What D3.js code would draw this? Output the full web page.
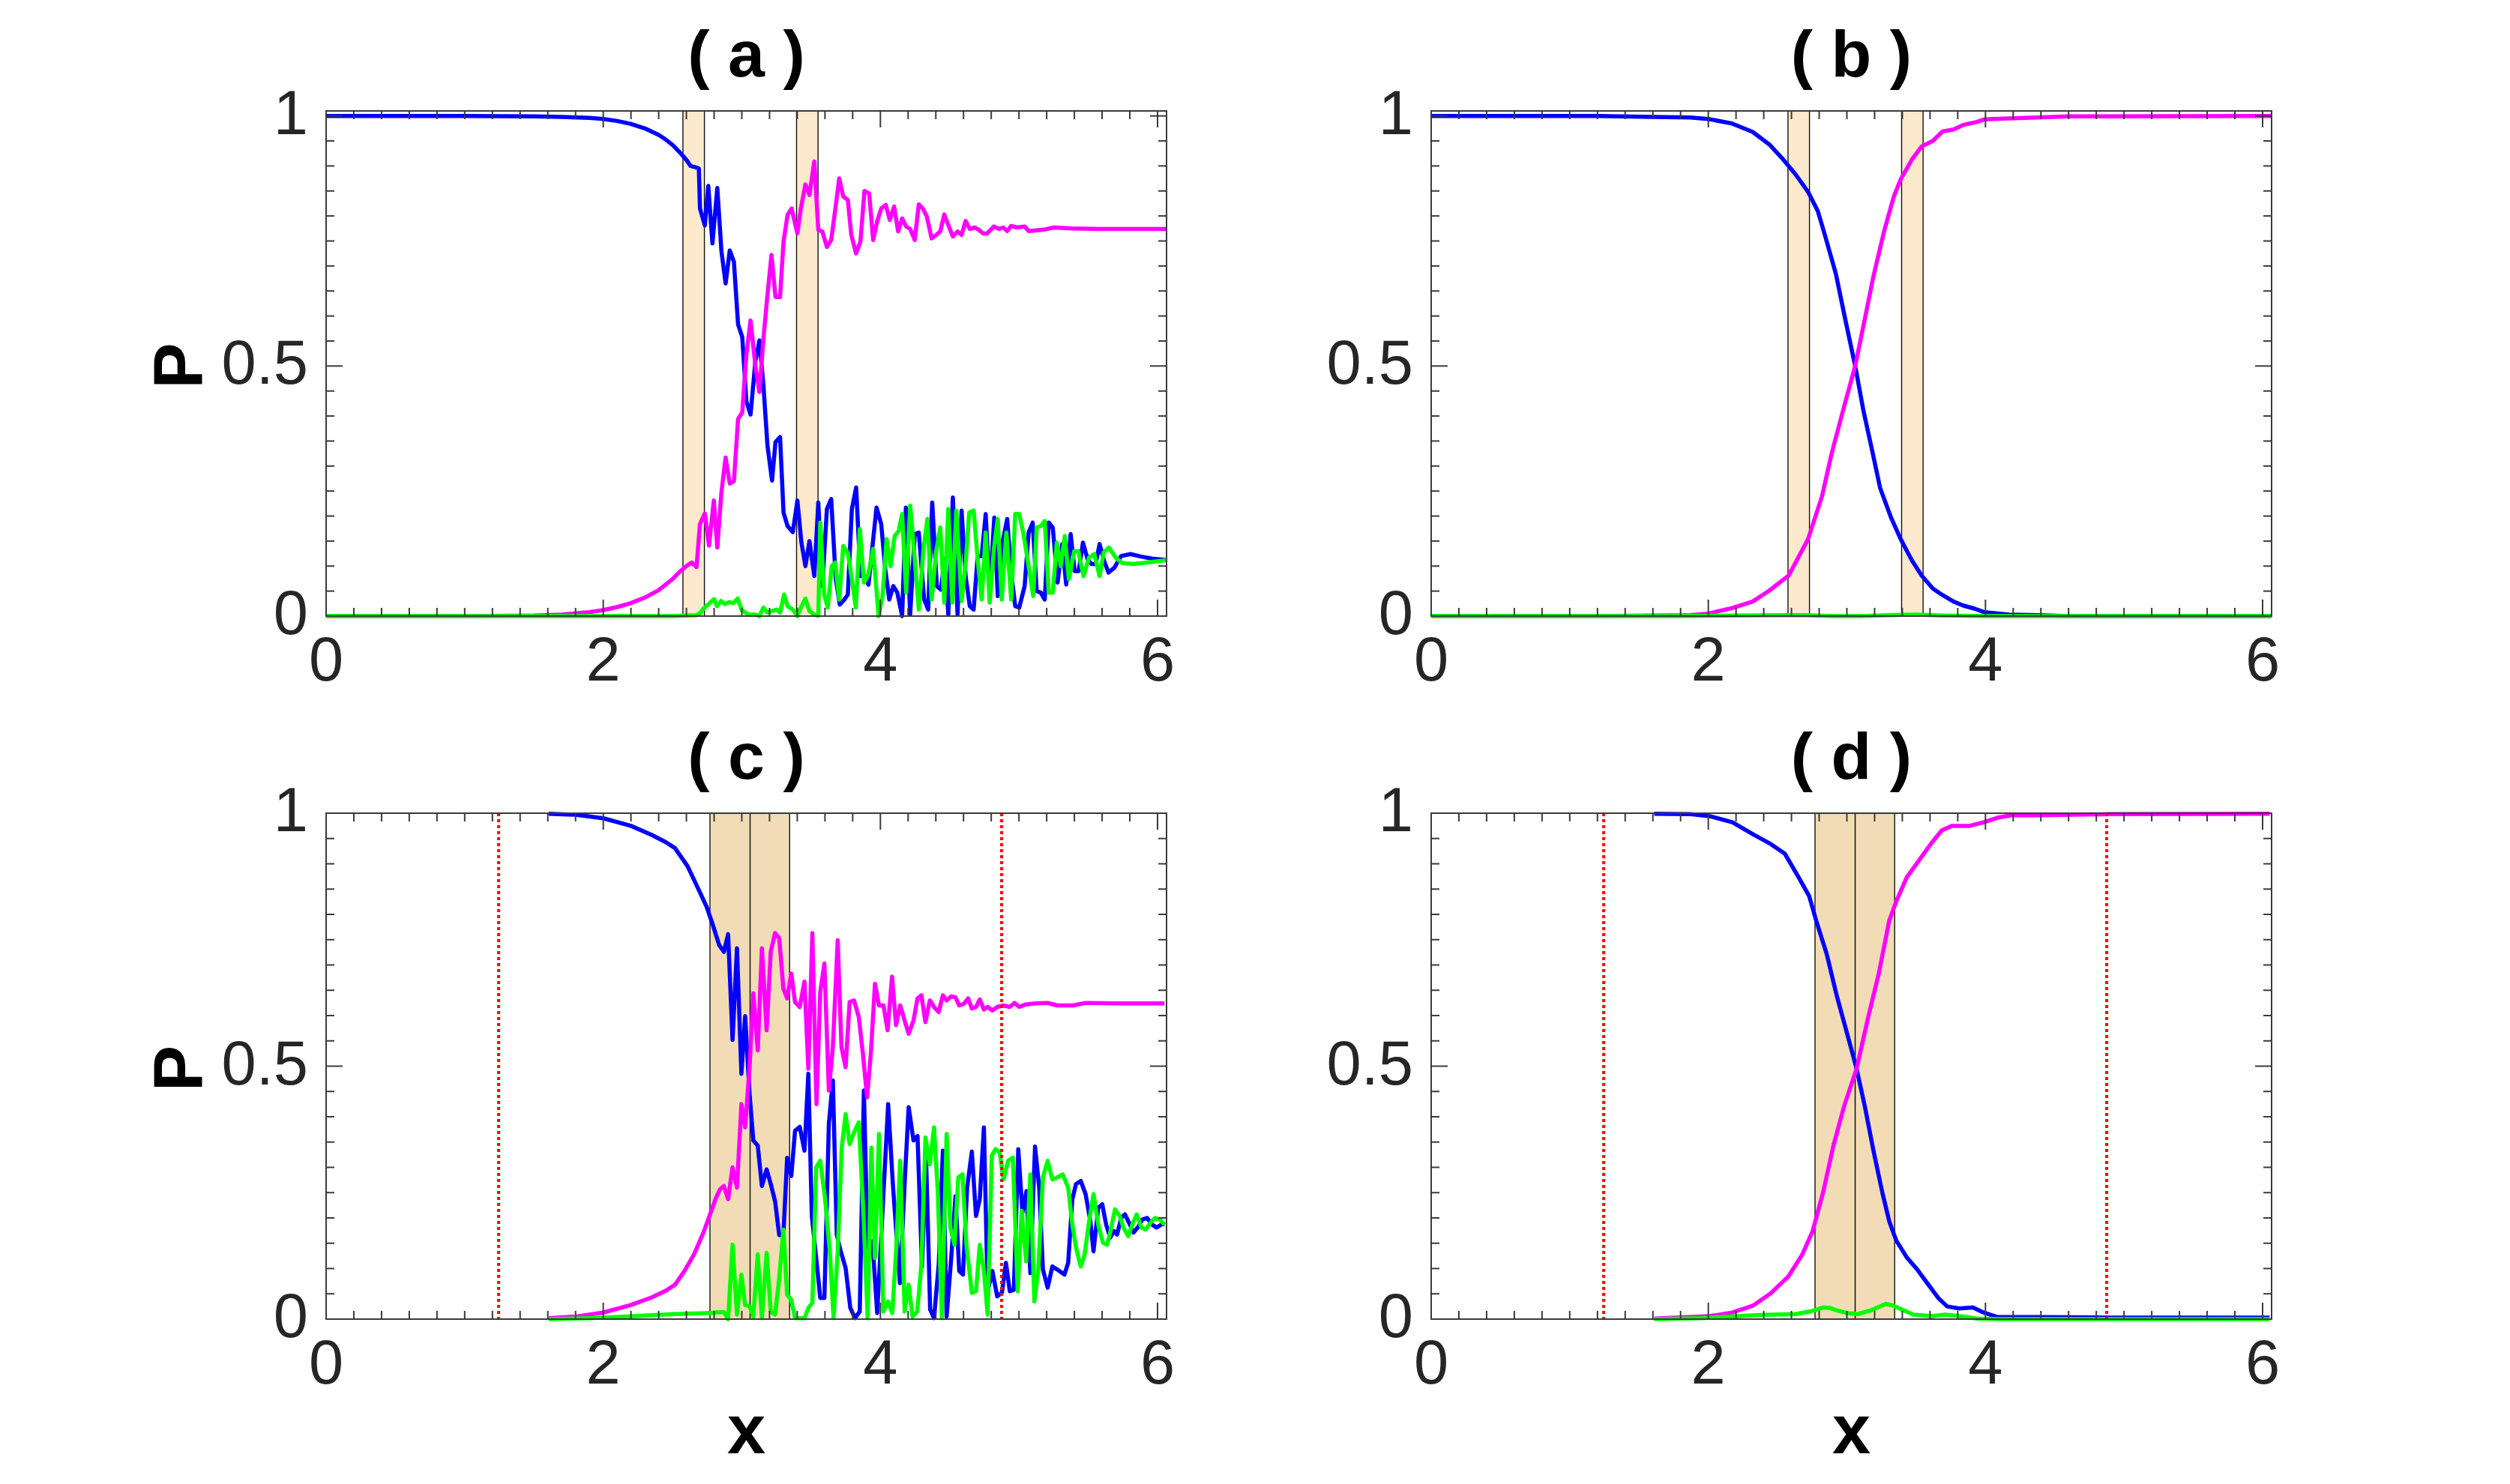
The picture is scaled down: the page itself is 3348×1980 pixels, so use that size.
<!DOCTYPE html>
<html>
<head>
<meta charset="utf-8">
<script src="https://d3js.org/d3.v7.min.js"></script>
<style>
  body { margin: 0; background: #fff; }
  text { font-family: "Liberation Sans", Arial, Helvetica, sans-serif; }
</style>
</head>
<body>
<script>
// ---- data: [x, P] pairs ----
const aBlue = [[0,1.0],[1.0,1.0],[1.5,0.999],[1.7,0.998],[1.9,0.996],[2.0,0.994],[2.1,0.99],[2.2,0.984],[2.3,0.975],[2.4,0.962],[2.45,0.953],[2.5,0.942],[2.55,0.928],[2.6,0.912],[2.63,0.9],[2.67,0.897],[2.69,0.895],[2.698,0.815],[2.733,0.781],[2.758,0.86],[2.788,0.745],[2.823,0.856],[2.853,0.729],[2.883,0.665],[2.913,0.731],[2.943,0.708],[2.973,0.583],[3.003,0.558],[3.033,0.429],[3.063,0.403],[3.098,0.51],[3.127,0.551],[3.156,0.461],[3.185,0.341],[3.218,0.271],[3.243,0.348],[3.276,0.358],[3.301,0.207],[3.33,0.18],[3.368,0.168],[3.401,0.231],[3.43,0.147],[3.459,0.1],[3.488,0.15],[3.523,0.08],[3.552,0.227],[3.581,0.06],[3.614,0.214],[3.645,0.234],[3.678,0.074],[3.707,0.023],[3.74,0.033],[3.765,0.043],[3.794,0.214],[3.825,0.257],[3.856,0.08],[3.885,0.08],[3.914,0.063],[3.972,0.217],[4.006,0.184],[4.035,0.094],[4.064,0.033],[4.093,0.06],[4.122,0.047],[4.157,0.0],[4.184,0.217],[4.215,0.003],[4.248,0.164],[4.277,0.167],[4.316,0.033],[4.345,0.013],[4.374,0.227],[4.407,0.06],[4.436,0.053],[4.465,0.114],[4.49,0.003],[4.523,0.237],[4.557,0.003],[4.586,0.211],[4.615,0.08],[4.645,0.02],[4.673,0.013],[4.702,0.12],[4.731,0.12],[4.76,0.204],[4.789,0.047],[4.822,0.197],[4.847,0.04],[4.876,0.14],[4.915,0.194],[4.944,0.087],[4.973,0.02],[5.002,0.017],[5.041,0.06],[5.07,0.167],[5.099,0.187],[5.128,0.05],[5.157,0.047],[5.186,0.033],[5.215,0.187],[5.244,0.177],[5.279,0.067],[5.312,0.144],[5.341,0.063],[5.373,0.164],[5.402,0.09],[5.431,0.09],[5.462,0.147],[5.495,0.114],[5.524,0.104],[5.553,0.104],[5.582,0.144],[5.615,0.11],[5.646,0.087],[5.689,0.097],[5.737,0.12],[5.805,0.124],[5.882,0.119],[5.959,0.115],[6.065,0.112]];
const aMagenta = [[0,0],[1.0,0],[1.5,0.001],[1.7,0.003],[1.9,0.008],[2.0,0.012],[2.1,0.018],[2.2,0.026],[2.3,0.037],[2.4,0.052],[2.5,0.074],[2.55,0.088],[2.6,0.1],[2.638,0.107],[2.673,0.098],[2.698,0.184],[2.733,0.205],[2.763,0.141],[2.798,0.231],[2.823,0.137],[2.853,0.248],[2.883,0.317],[2.913,0.265],[2.943,0.27],[2.973,0.394],[3.003,0.407],[3.033,0.523],[3.063,0.591],[3.098,0.5],[3.127,0.448],[3.156,0.555],[3.185,0.642],[3.214,0.722],[3.243,0.638],[3.276,0.638],[3.301,0.749],[3.33,0.802],[3.359,0.815],[3.401,0.765],[3.426,0.815],[3.459,0.863],[3.488,0.842],[3.523,0.909],[3.552,0.772],[3.581,0.769],[3.614,0.738],[3.645,0.752],[3.674,0.812],[3.703,0.875],[3.732,0.839],[3.765,0.832],[3.79,0.762],[3.825,0.725],[3.856,0.749],[3.885,0.85],[3.919,0.845],[3.948,0.752],[3.977,0.789],[4.006,0.815],[4.039,0.822],[4.068,0.792],[4.099,0.819],[4.128,0.769],[4.157,0.795],[4.186,0.779],[4.215,0.774],[4.248,0.752],[4.277,0.823],[4.306,0.815],[4.335,0.799],[4.37,0.755],[4.403,0.762],[4.432,0.769],[4.461,0.803],[4.49,0.782],[4.523,0.759],[4.557,0.769],[4.586,0.762],[4.615,0.79],[4.645,0.774],[4.683,0.777],[4.712,0.772],[4.741,0.765],[4.77,0.765],[4.819,0.779],[4.857,0.774],[4.886,0.777],[4.915,0.77],[4.944,0.78],[4.983,0.777],[5.041,0.779],[5.07,0.77],[5.186,0.773],[5.253,0.777],[5.379,0.775],[5.573,0.774],[6.065,0.774]];
const aGreen = [[0,0],[2.5,0],[2.6,0.001],[2.67,0.002],[2.7,0.006],[2.72,0.014],[2.76,0.024],[2.8,0.034],[2.82,0.02],[2.85,0.03],[2.88,0.024],[2.91,0.028],[2.94,0.026],[2.97,0.035],[3.0,0.012],[3.03,0.006],[3.06,0.003],[3.098,0.003],[3.127,0],[3.156,0.017],[3.185,0.007],[3.214,0.01],[3.252,0.013],[3.276,0.007],[3.305,0.043],[3.33,0.02],[3.368,0.013],[3.401,0],[3.426,0.017],[3.459,0.035],[3.488,0.01],[3.523,0.003],[3.552,0.001],[3.566,0.187],[3.595,0.043],[3.62,0.017],[3.649,0.1],[3.674,0.107],[3.703,0.033],[3.732,0.14],[3.765,0.127],[3.794,0.074],[3.823,0.017],[3.852,0.174],[3.881,0.067],[3.91,0.08],[3.948,0.134],[3.987,0],[4.016,0.04],[4.045,0.154],[4.074,0.1],[4.103,0.16],[4.132,0.17],[4.157,0.204],[4.186,0.047],[4.215,0.221],[4.248,0.114],[4.277,0.013],[4.312,0.137],[4.339,0.194],[4.37,0.033],[4.403,0.13],[4.432,0.177],[4.461,0.027],[4.49,0.214],[4.519,0.027],[4.548,0.211],[4.586,0.03],[4.615,0.104],[4.641,0.207],[4.673,0.211],[4.702,0.114],[4.731,0.033],[4.76,0.167],[4.789,0.027],[4.819,0.134],[4.847,0.194],[4.876,0.033],[4.909,0.167],[4.944,0.033],[4.973,0.204],[5.002,0.204],[5.031,0.167],[5.07,0.1],[5.103,0.04],[5.128,0.177],[5.157,0.18],[5.186,0.19],[5.215,0.047],[5.244,0.047],[5.273,0.147],[5.302,0.1],[5.331,0.16],[5.36,0.074],[5.399,0.13],[5.428,0.13],[5.466,0.08],[5.505,0.117],[5.544,0.124],[5.582,0.08],[5.611,0.127],[5.65,0.137],[5.698,0.117],[5.746,0.106],[5.824,0.104],[5.921,0.107],[6.017,0.11],[6.065,0.112]];

const bBlue = [[0,1.0],[1.2,1.0],[1.6,0.998],[1.87,0.997],[2.0,0.994],[2.17,0.985],[2.32,0.968],[2.44,0.943],[2.54,0.913],[2.63,0.883],[2.72,0.848],[2.79,0.81],[2.84,0.763],[2.92,0.685],[2.99,0.591],[3.06,0.5],[3.12,0.41],[3.18,0.334],[3.24,0.256],[3.32,0.196],[3.39,0.153],[3.47,0.111],[3.54,0.081],[3.62,0.055],[3.69,0.042],[3.77,0.029],[3.84,0.021],[3.92,0.015],[3.99,0.008],[4.17,0.003],[4.37,0.002],[4.6,0.0],[6.065,0.0]];
const bMagenta = [[0,0],[1.2,0],[1.6,0.001],[1.87,0.002],[2.0,0.005],[2.17,0.016],[2.32,0.029],[2.44,0.051],[2.58,0.081],[2.72,0.154],[2.82,0.239],[2.89,0.325],[2.98,0.419],[3.06,0.5],[3.13,0.595],[3.19,0.677],[3.27,0.771],[3.34,0.84],[3.39,0.874],[3.47,0.913],[3.54,0.939],[3.62,0.95],[3.69,0.969],[3.77,0.973],[3.84,0.982],[3.94,0.988],[3.99,0.993],[4.17,0.995],[4.37,0.997],[4.6,0.999],[6.065,1.0]];
const bGreen = [[0,0],[1.8,0],[2.2,0.001],[2.5,0.002],[2.7,0.002],[2.9,0.0],[3.1,0.0],[3.3,0.002],[3.5,0.003],[3.7,0.001],[4.0,0.0],[6.065,0.0]];

const cBlue = [[1.607,0.999],[1.8,0.997],[2.0,0.99],[2.2,0.975],[2.35,0.957],[2.45,0.943],[2.518,0.931],[2.609,0.895],[2.678,0.855],[2.746,0.815],[2.791,0.779],[2.837,0.739],[2.871,0.726],[2.901,0.761],[2.933,0.552],[2.965,0.733],[2.997,0.485],[3.024,0.599],[3.056,0.445],[3.083,0.353],[3.115,0.343],[3.145,0.263],[3.179,0.296],[3.209,0.267],[3.24,0.233],[3.27,0.166],[3.3,0.167],[3.327,0.319],[3.357,0.283],[3.384,0.372],[3.418,0.38],[3.452,0.333],[3.48,0.485],[3.505,0.204],[3.537,0.12],[3.566,0.042],[3.596,0.042],[3.628,0.386],[3.657,0.472],[3.685,0.167],[3.714,0.134],[3.749,0.101],[3.783,0.022],[3.817,0.002],[3.851,0.015],[3.881,0.452],[3.908,0.141],[3.942,0.154],[3.977,0.012],[4.022,0.247],[4.056,0.425],[4.09,0.267],[4.141,0.071],[4.177,0.28],[4.204,0.419],[4.239,0.353],[4.268,0.362],[4.3,0.104],[4.33,0.316],[4.359,0.019],[4.387,0.002],[4.421,0.108],[4.451,0.333],[4.478,0.005],[4.512,0.124],[4.542,0.243],[4.569,0.095],[4.596,0.088],[4.626,0.26],[4.66,0.331],[4.69,0.204],[4.717,0.237],[4.747,0.379],[4.774,0.055],[4.808,0.095],[4.843,0.045],[4.877,0.052],[4.906,0.111],[4.934,0.055],[4.963,0.058],[4.995,0.336],[5.025,0.21],[5.054,0.253],[5.082,0.091],[5.116,0.341],[5.146,0.26],[5.173,0.098],[5.207,0.062],[5.241,0.104],[5.276,0.098],[5.328,0.088],[5.355,0.111],[5.385,0.237],[5.412,0.267],[5.446,0.273],[5.481,0.247],[5.515,0.194],[5.538,0.134],[5.572,0.22],[5.601,0.227],[5.629,0.187],[5.658,0.161],[5.686,0.174],[5.708,0.167],[5.738,0.2],[5.765,0.207],[5.795,0.19],[5.827,0.171],[5.857,0.181],[5.891,0.197],[5.925,0.2],[5.959,0.187],[5.993,0.181],[6.028,0.187],[6.05,0.188]];
const cMagenta = [[1.607,0.002],[1.8,0.005],[2.0,0.013],[2.2,0.028],[2.35,0.043],[2.45,0.056],[2.518,0.068],[2.586,0.095],[2.655,0.128],[2.723,0.171],[2.78,0.214],[2.814,0.24],[2.844,0.257],[2.871,0.263],[2.901,0.237],[2.933,0.3],[2.965,0.26],[2.997,0.425],[3.024,0.379],[3.056,0.498],[3.083,0.644],[3.115,0.531],[3.145,0.733],[3.179,0.571],[3.209,0.726],[3.24,0.763],[3.27,0.753],[3.3,0.653],[3.327,0.634],[3.357,0.683],[3.384,0.627],[3.418,0.617],[3.452,0.667],[3.48,0.495],[3.509,0.763],[3.539,0.425],[3.566,0.647],[3.596,0.703],[3.628,0.452],[3.657,0.538],[3.692,0.749],[3.719,0.538],[3.749,0.498],[3.778,0.627],[3.81,0.63],[3.844,0.597],[3.874,0.524],[3.904,0.438],[3.931,0.524],[3.961,0.663],[3.99,0.62],[4.022,0.62],[4.052,0.571],[4.084,0.677],[4.113,0.581],[4.143,0.62],[4.175,0.59],[4.204,0.564],[4.239,0.59],[4.268,0.634],[4.296,0.64],[4.325,0.587],[4.357,0.63],[4.387,0.617],[4.421,0.607],[4.451,0.64],[4.478,0.63],[4.512,0.638],[4.542,0.636],[4.569,0.62],[4.603,0.623],[4.633,0.634],[4.66,0.614],[4.69,0.617],[4.717,0.632],[4.747,0.612],[4.774,0.617],[4.808,0.61],[4.843,0.617],[4.888,0.62],[4.934,0.617],[4.968,0.625],[5.002,0.617],[5.048,0.622],[5.116,0.624],[5.207,0.625],[5.276,0.62],[5.389,0.62],[5.481,0.625],[5.708,0.624],[6.05,0.624]];
const cGreen = [[1.607,0],[1.9,0.002],[2.1,0.004],[2.3,0.007],[2.518,0.01],[2.746,0.012],[2.871,0.014],[2.901,0],[2.933,0.147],[2.965,0.009],[2.997,0.088],[3.024,0.028],[3.056,0.025],[3.083,0.005],[3.115,0.128],[3.145,0.002],[3.179,0.131],[3.209,0.015],[3.24,0.009],[3.27,0.081],[3.3,0.177],[3.327,0.048],[3.357,0.038],[3.384,0.002],[3.452,0.002],[3.48,0.022],[3.509,0.032],[3.537,0.3],[3.566,0.313],[3.6,0.24],[3.635,0.134],[3.662,0.002],[3.692,0.134],[3.721,0.339],[3.749,0.405],[3.778,0.346],[3.81,0.369],[3.844,0.389],[3.879,0.2],[3.908,0.002],[3.935,0.339],[3.961,0.121],[3.99,0.366],[4.022,0.015],[4.056,0.035],[4.086,0.012],[4.113,0.134],[4.143,0.313],[4.175,0.015],[4.204,0.068],[4.232,0.005],[4.266,0.015],[4.296,0.108],[4.325,0.359],[4.357,0.306],[4.387,0.379],[4.414,0.253],[4.444,0.002],[4.478,0.366],[4.505,0.181],[4.535,0.147],[4.562,0.28],[4.592,0.286],[4.621,0.147],[4.66,0.052],[4.69,0.055],[4.717,0.147],[4.747,0.095],[4.774,0.009],[4.804,0.323],[4.831,0.336],[4.861,0.329],[4.888,0.276],[4.922,0.313],[4.956,0.319],[4.991,0.055],[5.02,0.214],[5.052,0.114],[5.082,0.286],[5.111,0.035],[5.139,0.095],[5.173,0.28],[5.207,0.313],[5.241,0.276],[5.276,0.28],[5.316,0.286],[5.355,0.26],[5.385,0.187],[5.412,0.141],[5.446,0.104],[5.474,0.128],[5.503,0.187],[5.538,0.247],[5.572,0.187],[5.606,0.151],[5.636,0.147],[5.663,0.177],[5.693,0.217],[5.727,0.204],[5.754,0.181],[5.788,0.164],[5.818,0.187],[5.85,0.207],[5.884,0.181],[5.914,0.177],[5.948,0.19],[5.982,0.2],[6.016,0.197],[6.05,0.187]];

const dBlue = [[1.61,0.999],[1.872,0.998],[2.013,0.994],[2.174,0.982],[2.325,0.958],[2.451,0.939],[2.552,0.92],[2.652,0.873],[2.728,0.836],[2.778,0.788],[2.854,0.722],[2.929,0.637],[3.005,0.561],[3.07,0.495],[3.13,0.42],[3.191,0.334],[3.256,0.25],[3.306,0.193],[3.357,0.155],[3.432,0.122],[3.508,0.098],[3.583,0.07],[3.659,0.042],[3.724,0.025],[3.81,0.021],[3.91,0.023],[3.986,0.013],[4.087,0.004],[4.388,0.004],[4.892,0.003],[6.05,0.003]];
const dMagenta = [[1.61,0.001],[2.013,0.006],[2.174,0.013],[2.325,0.027],[2.451,0.051],[2.577,0.084],[2.677,0.127],[2.753,0.174],[2.828,0.25],[2.904,0.344],[2.979,0.42],[3.07,0.495],[3.156,0.599],[3.231,0.684],[3.306,0.788],[3.357,0.826],[3.432,0.873],[3.508,0.902],[3.608,0.94],[3.684,0.966],[3.759,0.975],[3.885,0.975],[3.986,0.982],[4.087,0.991],[4.187,0.996],[4.388,0.996],[4.892,0.998],[6.05,0.999]];
const dGreen = [[1.61,0],[1.95,0.002],[2.37,0.008],[2.63,0.01],[2.75,0.016],[2.83,0.023],[2.88,0.022],[2.93,0.017],[3.0,0.012],[3.08,0.01],[3.18,0.018],[3.28,0.03],[3.33,0.027],[3.38,0.021],[3.48,0.009],[3.61,0.006],[3.71,0.009],[3.81,0.006],[3.94,0.001],[4.1,0],[6.05,0]];

// shaded regions and marker lines
const narrowBands = [[2.575, 2.73], [3.395, 3.55]];
const wideBands = [[2.77, 3.06], [3.06, 3.345]];
const redLines = [1.245, 4.875];

// ticks
const xTicks = [0, 2, 4, 6];
const yTicks = [0, 0.5, 1];
const yTickLabels = ["0", "0.5", "1"];
const titles = ["( a )", "( b )", "( c )", "( d )"];

const W = 3348, H = 1980;
const svg = d3.select("body").append("svg")
    .attr("width", W)
    .attr("height", H)
    .style("display", "block");

const panels = [
  {title: titles[0], left: 435,  top: 148,  bottom: 822,  yMax: 1.01, series: [aBlue, aMagenta, aGreen], bands: narrowBands, fill: "#fde9cb", red: false, yLab: true,  xLab: false},
  {title: titles[1], left: 1909, top: 148,  bottom: 822,  yMax: 1.01, series: [bBlue, bMagenta, bGreen], bands: narrowBands, fill: "#fde9cb", red: false, yLab: false, xLab: false},
  {title: titles[2], left: 435,  top: 1085, bottom: 1760, yMax: 1.0,  series: [cBlue, cMagenta, cGreen], bands: wideBands,   fill: "#f2dcb5", red: true,  yLab: true,  xLab: true},
  {title: titles[3], left: 1909, top: 1085, bottom: 1760, yMax: 1.0,  series: [dBlue, dMagenta, dGreen], bands: wideBands,   fill: "#f2dcb5", red: true,  yLab: false, xLab: true}
];
const colors = ["#0000ff", "#ff00ff", "#00ff00"];
const plotW = 1121;
const axisColor = "#3a3a3a";
const textColor = "#262626";

panels.forEach(p => {
  const x = d3.scaleLinear().domain([0, 6.065]).range([p.left, p.left + plotW]);
  const y = d3.scaleLinear().domain([0, p.yMax]).range([p.bottom, p.top]);
  const g = svg.append("g");
  const right = p.left + plotW;

  // shaded bands
  g.selectAll("rect.band").data(p.bands).enter().append("rect")
      .attr("x", d => x(d[0]))
      .attr("y", p.top)
      .attr("width", d => x(d[1]) - x(d[0]))
      .attr("height", p.bottom - p.top)
      .attr("fill", p.fill)
      .attr("stroke", "#111")
      .attr("stroke-width", 1.4);

  // curves
  const line = d3.line().x(d => x(d[0])).y(d => y(d[1]));
  p.series.forEach((s, i) => {
    g.append("path")
        .attr("d", line(s))
        .attr("fill", "none")
        .attr("stroke", colors[i])
        .attr("stroke-width", 5.5)
        .attr("stroke-linejoin", "round");
  });

  // dotted red markers
  if (p.red) {
    g.selectAll("line.red").data(redLines).enter().append("line")
        .attr("x1", d => x(d)).attr("x2", d => x(d))
        .attr("y1", p.top).attr("y2", p.bottom)
        .attr("stroke", "#ff0000")
        .attr("stroke-width", 4)
        .attr("stroke-dasharray", "4,4");
  }

  // box
  g.append("rect")
      .attr("x", p.left).attr("y", p.top)
      .attr("width", plotW).attr("height", p.bottom - p.top)
      .attr("fill", "none").attr("stroke", axisColor).attr("stroke-width", 2);

  // ticks, inward on all sides
  const xMinor = d3.range(0, 6.0001, 0.2);
  const yMinor = d3.range(0, 1.0001, 0.05);
  const isMajX = v => xTicks.some(t => Math.abs(t - v) < 1e-6);
  const isMajY = v => yTicks.some(t => Math.abs(t - v) < 1e-6);
  xMinor.forEach(v => {
    const len = isMajX(v) ? 22 : 11;
    const xx = x(v);
    g.append("line").attr("x1", xx).attr("x2", xx).attr("y1", p.bottom).attr("y2", p.bottom - len)
        .attr("stroke", axisColor).attr("stroke-width", 2);
    g.append("line").attr("x1", xx).attr("x2", xx).attr("y1", p.top).attr("y2", p.top + len)
        .attr("stroke", axisColor).attr("stroke-width", 2);
  });
  yMinor.forEach(v => {
    const len = isMajY(v) ? 22 : 11;
    const yy = y(v);
    g.append("line").attr("x1", p.left).attr("x2", p.left + len).attr("y1", yy).attr("y2", yy)
        .attr("stroke", axisColor).attr("stroke-width", 2);
    g.append("line").attr("x1", right).attr("x2", right - len).attr("y1", yy).attr("y2", yy)
        .attr("stroke", axisColor).attr("stroke-width", 2);
  });

  // tick labels
  g.selectAll("text.xt").data(xTicks).enter().append("text")
      .attr("x", d => x(d)).attr("y", p.bottom + 86)
      .attr("text-anchor", "middle")
      .attr("font-size", 83).attr("fill", textColor)
      .text(d => d);
  g.selectAll("text.yt").data(yTicks).enter().append("text")
      .attr("x", p.left - 24).attr("y", d => y(d) + 24)
      .attr("text-anchor", "end")
      .attr("font-size", 83).attr("fill", textColor)
      .text((d, i) => yTickLabels[i]);

  // title
  g.append("text")
      .attr("x", p.left + plotW / 2).attr("y", p.top - 46)
      .attr("text-anchor", "middle")
      .attr("font-size", 88).attr("font-weight", "bold").attr("fill", "#000")
      .text(p.title);

  if (p.yLab) {
    g.append("text")
        .attr("transform", `translate(${p.left - 165},${(p.top + p.bottom) / 2 + 3}) rotate(-90)`)
        .attr("text-anchor", "middle")
        .attr("font-size", 92).attr("font-weight", "bold").attr("fill", "#000")
        .text("P");
  }
  if (p.xLab) {
    g.append("text")
        .attr("x", p.left + plotW / 2).attr("y", p.bottom + 179)
        .attr("text-anchor", "middle")
        .attr("font-size", 92).attr("font-weight", "bold").attr("fill", "#000")
        .text("x");
  }
});
</script>
</body>
</html>
